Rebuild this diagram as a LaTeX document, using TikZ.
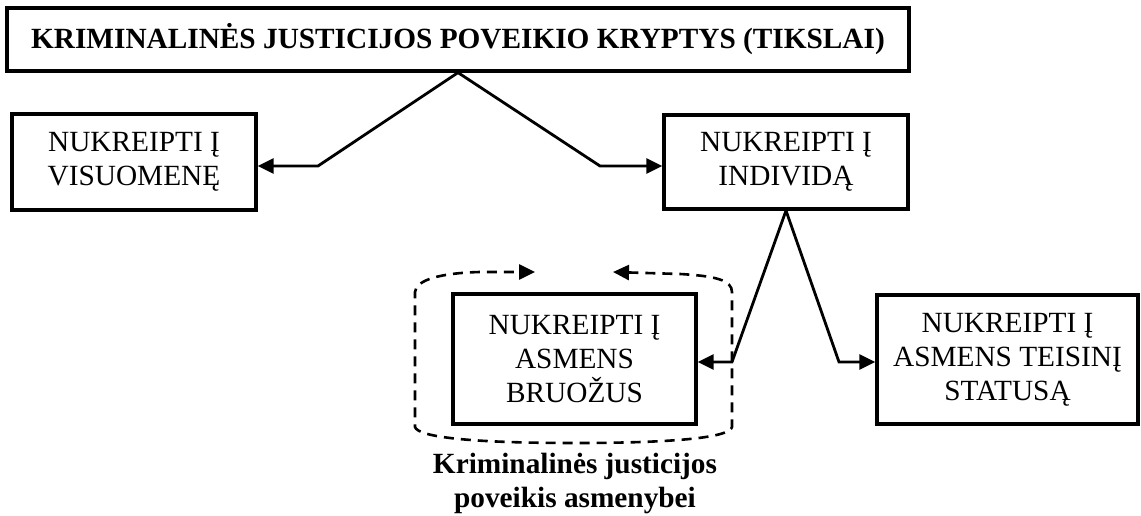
\documentclass[tikz,border=0pt]{standalone}
\usepackage{fontspec}
\setmainfont{Liberation Serif}
\usetikzlibrary{arrows.meta}
\tikzset{>={Triangle[length=16pt,width=15pt]}}
\tikzset{
  langas/.style={draw, line width=3.2pt, inner sep=0pt, align=center,
    font=\fontsize{29.3}{34}\selectfont},
  jung/.style={line width=2.8pt, ->},
}

\begin{document}
\begin{tikzpicture}[x=1pt,y=-1pt]
    \useasboundingbox (0,0) rectangle (1141,516);
    \node[langas, minimum width=902pt, minimum height=63pt,
      font=\fontsize{29.3}{34}\selectfont\bfseries] (tikslai) at (458,39.5)
      {KRIMINALINĖS JUSTICIJOS POVEIKIO KRYPTYS (TIKSLAI)};
    \node[langas, minimum width=244pt, minimum height=96pt] (visuom) at (134,162)
      {NUKREIPTI Į\\VISUOMENĘ};
    \node[langas, minimum width=244pt, minimum height=94pt] (indiv) at (786,162)
      {NUKREIPTI Į\\INDIVIDĄ};
    \node[langas, minimum width=243pt, minimum height=130pt] (bruoz) at (574.5,359)
      {NUKREIPTI Į\\ASMENS\\BRUOŽUS};
    \node[langas, minimum width=261pt, minimum height=129pt] (statusas) at (1007.5,359.5)
      {NUKREIPTI Į\\ASMENS TEISINĮ\\STATUSĄ};
    \node[font=\fontsize{29.3}{34}\selectfont\bfseries, align=center, inner sep=0pt]
      (poveikis) at (575,483) {Kriminalinės justicijos\\poveikis asmenybei};
    % lauzti jungikliai
    \coordinate (lk) at (318,166);
    \coordinate (ld) at (600,166);
    \coordinate (ak) at (732,362);
    \coordinate (ad) at (839,362);
    \draw[jung] (tikslai.south) -- (lk) -- (lk -| visuom.east);
    \draw[jung] (tikslai.south) -- (ld) -- (ld -| indiv.west);
    \draw[jung] (indiv.south) -- (ak) -- (ak -| bruoz.east);
    \draw[jung] (indiv.south) -- (ad) -- (ad -| statusas.west);
    % punktyrinis ratas
    \draw[line width=2.6pt, dash pattern=on 10pt off 7pt, <->]
      (613,272) -- (680,274) .. controls (715,276) and (732,280) .. (732,292)
      -- (732,427) .. controls (730,437) and (680,443) .. (575,443)
      .. controls (470,443) and (418,437) .. (415,427)
      -- (415,292) .. controls (416,280) and (440,273) .. (480,272) -- (535,272);
\end{tikzpicture}
\end{document}
